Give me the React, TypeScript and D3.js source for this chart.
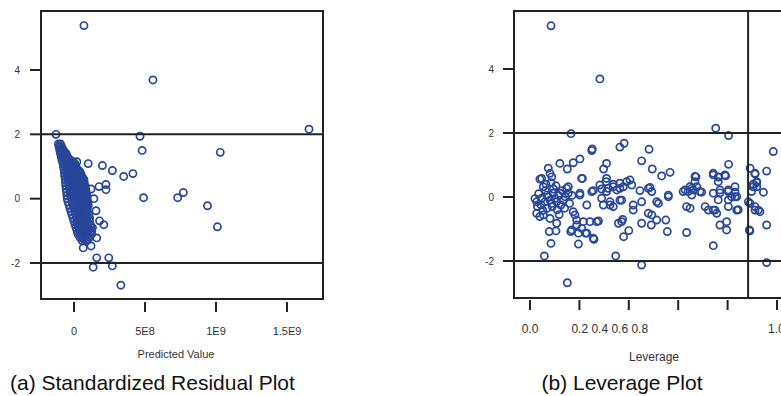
import * as d3 from "d3";

const FONT = "'Liberation Sans', Arial, sans-serif";
const BLUE = "#28469a";
const INK = "#222";

// (a) standardized residual vs predicted value; x given in units of 1E8
const residualPoints: [number, number][] = [
  // outlying cases
  [0.7, 5.38], [5.56, 3.69], [16.55, 2.16], [-1.27, 2.0], [4.65, 1.94], [4.8, 1.5],
  [10.3, 1.44], [0.2, 1.15], [1.0, 1.09], [2.0, 1.03], [2.7, 0.875], [3.5, 0.69],
  [4.15, 0.78], [4.9, 0.03], [7.3, 0.03], [7.7, 0.19], [9.4, -0.22], [10.1, -0.875],
  [0.65, -1.53], [1.2, -1.47], [1.6, -1.84], [1.35, -2.13], [2.45, -1.84], [2.7, -2.09],
  [3.3, -2.69], [0.9, -1.31], [1.6, -1.22], [1.8, -0.69], [2.1, -0.81], [1.55, -0.375],
  [1.4, 0.0], [1.2, 0.3], [1.76, 0.375], [2.25, 0.44], [2.25, 0.28], [1.3, -0.9],
  // dense band near zero
  [-1.1, 1.7], [-0.95, 1.7], [-1.05, 1.6], [-0.85, 1.6], [-1.0, 1.5], [-0.75, 1.5],
  [-0.95, 1.4], [-0.7, 1.4], [-0.55, 1.4], [-0.9, 1.3], [-0.65, 1.3], [-0.45, 1.3],
  [-0.85, 1.2], [-0.55, 1.2], [-0.25, 1.2], [-0.78, 1.1], [-0.5, 1.1], [-0.15, 1.1], [0.05, 1.1],
  [-0.75, 1.0], [-0.45, 1.0], [-0.1, 1.0], [0.15, 1.0], [-0.7, 0.9], [-0.4, 0.9], [-0.05, 0.9], [0.25, 0.9],
  [-0.68, 0.8], [-0.35, 0.8], [0.0, 0.8], [0.35, 0.8], [0.45, 0.8],
  [-0.65, 0.7], [-0.3, 0.7], [0.05, 0.7], [0.4, 0.7], [0.55, 0.7],
  [-0.62, 0.6], [-0.25, 0.6], [0.1, 0.6], [0.45, 0.6], [0.7, 0.6],
  [-0.6, 0.5], [-0.2, 0.5], [0.15, 0.5], [0.5, 0.5], [0.72, 0.5],
  [-0.58, 0.4], [-0.15, 0.4], [0.2, 0.4], [0.55, 0.4], [0.78, 0.4],
  [-0.55, 0.3], [-0.1, 0.3], [0.25, 0.3], [0.6, 0.3], [0.82, 0.3],
  [-0.52, 0.2], [-0.05, 0.2], [0.3, 0.2], [0.65, 0.2], [0.85, 0.2],
  [-0.5, 0.1], [0.0, 0.1], [0.35, 0.1], [0.7, 0.1], [0.9, 0.1],
  [-0.48, 0.0], [0.05, 0.0], [0.4, 0.0], [0.75, 0.0], [0.92, 0.0],
  [-0.42, -0.1], [0.1, -0.1], [0.45, -0.1], [0.8, -0.1], [0.98, -0.1],
  [-0.35, -0.2], [0.15, -0.2], [0.5, -0.2], [0.85, -0.2], [1.0, -0.2],
  [-0.28, -0.3], [0.2, -0.3], [0.55, -0.3], [0.9, -0.3],
  [-0.21, -0.4], [0.25, -0.4], [0.6, -0.4], [0.95, -0.4],
  [-0.14, -0.5], [0.3, -0.5], [0.65, -0.5], [1.05, -0.5],
  [-0.07, -0.6], [0.35, -0.6], [0.7, -0.6], [1.1, -0.6],
  [0.0, -0.7], [0.4, -0.7], [0.75, -0.7], [1.1, -0.7],
  [0.07, -0.8], [0.45, -0.8], [0.8, -0.8], [1.15, -0.8],
  [0.14, -0.9], [0.5, -0.9], [0.85, -0.9], [1.2, -0.9],
  [0.21, -1.0], [0.55, -1.0], [0.9, -1.0], [1.25, -1.0],
  [0.28, -1.1], [0.65, -1.1], [1.0, -1.1], [1.25, -1.1],
  [0.42, -1.2], [0.75, -1.2], [1.1, -1.2], [0.56, -1.3], [0.85, -1.3],
  [-1.02, 1.65], [-0.95, 1.55], [-0.82, 1.55], [-0.88, 1.45], [-0.65, 1.45],
  [-0.8, 1.35], [-0.55, 1.35], [-0.72, 1.25], [-0.4, 1.25],
  [-0.65, 1.15], [-0.32, 1.15], [-0.05, 1.15], [-0.6, 1.05], [-0.28, 1.05], [0.0, 1.05],
  [-0.55, 0.95], [-0.22, 0.95], [0.1, 0.95], [-0.52, 0.85], [-0.18, 0.85], [0.18, 0.85], [0.4, 0.85],
  [-0.48, 0.75], [-0.12, 0.75], [0.22, 0.75], [0.48, 0.75], [-0.45, 0.65], [-0.08, 0.65], [0.28, 0.65], [0.6, 0.65],
  [-0.42, 0.55], [-0.02, 0.55], [0.32, 0.55], [0.62, 0.55], [-0.38, 0.45], [0.02, 0.45], [0.38, 0.45], [0.68, 0.45],
  [-0.32, 0.35], [0.08, 0.35], [0.42, 0.35], [0.72, 0.35], [-0.28, 0.25], [0.12, 0.25], [0.48, 0.25], [0.75, 0.25],
  [-0.25, 0.15], [0.18, 0.15], [0.52, 0.15], [0.8, 0.15], [-0.22, 0.05], [0.22, 0.05], [0.58, 0.05], [0.85, 0.05],
  [-0.15, -0.05], [0.28, -0.05], [0.62, -0.05], [0.9, -0.05], [-0.1, -0.15], [0.32, -0.15], [0.68, -0.15], [0.92, -0.15],
  [-0.05, -0.25], [0.38, -0.25], [0.72, -0.25], [0.98, -0.25], [0.02, -0.35], [0.42, -0.35], [0.78, -0.35],
  [0.08, -0.45], [0.48, -0.45], [0.82, -0.45], [0.15, -0.55], [0.52, -0.55], [0.88, -0.55],
  [0.2, -0.65], [0.58, -0.65], [0.92, -0.65], [0.22, -0.75], [0.6, -0.75], [0.95, -0.75],
  [0.3, -0.85], [0.68, -0.85], [1.0, -0.85], [0.38, -0.95], [0.72, -0.95], [1.08, -0.95],
  [0.42, -1.05], [0.8, -1.05], [1.12, -1.05], [0.52, -1.15], [0.9, -1.15], [0.65, -1.25], [0.98, -1.25],
];

const predictedTicks = [0, 5e8, 1e9, 1.5e9];
const predictedTickLabels = ["0", "5E8", "1E9", "1.5E9"];
const residualTicks = [-2, 0, 2, 4];
const residualLimits = [-2, 2];

// (b) standardized residual vs leverage
const leveragePoints: [number, number][] = [
  [0.085, 5.35], [0.283, 3.69], [0.166, 1.98], [0.752, 2.15], [0.804, 1.92], [0.985, 1.42],
  [0.25, 1.45], [0.252, 1.5], [0.364, 1.56], [0.381, 1.68], [0.482, 1.49],
  [0.121, 1.05], [0.151, 0.875], [0.175, 1.07], [0.202, 1.19], [0.074, 0.9], [0.081, 0.74],
  [0.088, 0.63], [0.04, 0.56], [0.054, 0.32], [0.212, 0.58], [0.298, 0.875], [0.31, 1.05],
  [0.452, 1.13], [0.495, 0.875], [0.533, 0.66], [0.567, 0.77], [0.672, 0.63], [0.742, 0.69],
  [0.764, 0.62], [0.792, 0.66], [0.804, 1.02], [0.891, 0.9], [0.911, 0.72], [0.958, 0.81],
  [0.308, 0.48], [0.391, 0.48], [0.364, 0.43], [0.337, 0.4], [0.337, 0.32], [0.405, 0.53],
  [0.364, 0.27], [0.283, 0.375], [0.31, 0.58], [0.256, 0.2], [0.29, 0.25], [0.317, 0.27],
  [0.445, 0.2], [0.486, 0.3], [0.493, 0.17], [0.56, 0.06], [0.628, 0.22], [0.661, 0.22],
  [0.695, 0.15], [0.742, 0.12], [0.769, 0.13], [0.803, 0.17], [0.83, 0.32], [0.83, 0.15],
  [0.904, 0.4], [0.918, 0.45], [0.945, 0.15], [0.148, 0.27], [0.202, 0.12], [0.155, 0.12],
  [0.155, 0.32], [0.25, 0.17], [0.209, 0.58], [0.047, 0.58], [0.62, 0.17], [0.655, 0.06],
  [0.675, 0.32], [0.648, 0.32], [0.918, 0.32], [0.202, 0.06],
  [0.027, -0.15], [0.047, -0.04], [0.068, 0.06], [0.094, 0.12], [0.121, 0.12], [0.142, 0.01],
  [0.081, -0.1], [0.108, -0.15], [0.29, -0.04], [0.31, 0.17], [0.351, 0.22], [0.378, 0.32],
  [0.412, 0.375], [0.479, 0.27], [0.452, -0.15], [0.513, -0.15], [0.634, -0.3], [0.418, -0.25],
  [0.324, -0.25], [0.364, -0.1], [0.418, -0.41], [0.479, -0.51], [0.297, -0.25], [0.337, -0.3],
  [0.324, -0.15], [0.371, -0.1], [0.493, -0.56], [0.52, -0.2], [0.56, 0.01], [0.648, -0.35],
  [0.709, -0.3], [0.722, -0.41], [0.742, -0.41], [0.756, -0.51], [0.803, -0.3], [0.837, -0.41],
  [0.83, 0.01], [0.891, -0.2], [0.911, -0.41], [0.931, -0.46], [0.23, -0.25],
  [0.027, -0.51], [0.04, -0.61], [0.054, -0.56], [0.081, -0.67], [0.108, -0.82], [0.175, -0.46],
  [0.182, -0.56], [0.189, -0.72], [0.216, -0.77], [0.243, -0.77], [0.27, -0.77], [0.358, -0.82],
  [0.371, -0.77], [0.375, -0.7], [0.452, -0.82], [0.491, -0.875], [0.513, -0.72], [0.55, -0.72],
  [0.556, -1.08], [0.634, -1.11], [0.769, -0.875], [0.796, -0.77], [0.796, -1.03], [0.888, -1.03],
  [0.89, -1.06], [0.958, -0.875], [0.078, -1.08], [0.105, -1.06], [0.165, -1.08], [0.196, -1.13],
  [0.225, -1.13], [0.259, -1.32], [0.379, -1.24], [0.4, -1.05], [0.169, -1.03], [0.189, -0.875],
  [0.209, -0.98], [0.23, -1.13], [0.256, -1.29], [0.277, -0.75], [0.085, -1.45], [0.196, -1.47],
  [0.058, -1.84], [0.151, -2.68], [0.347, -1.84], [0.452, -2.125], [0.742, -1.52], [0.958, -2.05],
  [0.668, 0.64], [0.668, 0.48], [0.655, 0.27], [0.688, 0.17], [0.64, 0.17], [0.742, 0.74],
  [0.762, 0.63], [0.789, 0.69], [0.762, 0.48], [0.769, 0.22], [0.803, 0.22], [0.816, 0.01],
  [0.837, 0.01], [0.762, -0.09], [0.803, -0.09], [0.843, -0.4], [0.749, -0.41], [0.911, 0.74],
  [0.918, 0.48], [0.904, 0.32], [0.897, 0.17], [0.884, -0.15], [0.911, -0.3], [0.925, -0.41],
  [0.02, -0.05], [0.035, 0.1], [0.045, -0.25], [0.06, -0.15], [0.062, 0.2], [0.07, -0.35],
  [0.075, 0.0], [0.09, -0.3], [0.095, 0.25], [0.1, -0.05], [0.11, -0.4], [0.115, 0.05],
  [0.125, -0.25], [0.13, 0.2], [0.135, -0.1], [0.052, -0.42], [0.03, -0.3], [0.065, 0.4],
  [0.085, 0.45], [0.105, 0.35], [0.14, -0.35], [0.16, -0.2], [0.17, 0.05], [0.118, -0.55],
  [0.088, -0.2],
];

const leverageTicks = [0, 0.2, 0.4, 0.6, 0.8, 1.0];
const leverageCutoff = 0.883;

function Dots({ points, x, y, scaleX = 1 }: any) {
  return (
    <g fill="none" stroke={BLUE} strokeWidth={1.7}>
      {points.map(([a, b]: [number, number], i: number) => (
        <circle key={i} cx={x(a * scaleX)} cy={y(b)} r={3.6} />
      ))}
    </g>
  );
}

function YAxis({ y, left, labelX }: any) {
  return (
    <g>
      {residualTicks.map((t) => (
        <g key={t}>
          <line x1={left - 11} x2={left} y1={y(t)} y2={y(t)} stroke={INK} strokeWidth={2} />
          <text x={labelX} y={y(t)} dy="0.35em" textAnchor="end" fontSize={10} fill="#333">
            {t}
          </text>
        </g>
      ))}
    </g>
  );
}

export default function App() {
  // (a) layout
  const a = { left: 41, right: 323, top: 11, bottom: 299 };
  const xa = d3.scaleLinear().domain([0, 1.5e9]).range([74, 287]);
  const ya = d3.scaleLinear().domain([-2, 4]).range([263, 70]);

  // (b) layout
  const b = { left: 514, right: 800, top: 11, bottom: 298 };
  const xb = d3.scaleLinear().domain([0, 1]).range([530, 777]);
  const yb = d3.scaleLinear().domain([-2, 4]).range([261, 69]);

  return (
    <svg
      width={781}
      height={396}
      style={{ position: "absolute", left: 0, top: 0, background: "#fff" }}
      fontFamily={FONT}
    >
      <rect width={781} height={396} fill="#fff" />

      {/* (a) Standardized Residual Plot */}
      <Dots points={residualPoints} x={xa} y={ya} scaleX={1e8} />
      {residualLimits.map((v) => (
        <line key={v} x1={a.left} x2={a.right} y1={ya(v)} y2={ya(v)} stroke={INK} strokeWidth={2} />
      ))}
      <rect x={a.left} y={a.top} width={a.right - a.left} height={a.bottom - a.top}
        fill="none" stroke={INK} strokeWidth={2} />
      <YAxis y={ya} left={a.left} labelX={20} />
      {predictedTicks.map((t, i) => (
        <g key={t}>
          <line x1={xa(t)} x2={xa(t)} y1={a.bottom + 3} y2={a.bottom + 13} stroke={INK} strokeWidth={2} />
          <text x={xa(t)} y={335} textAnchor="middle" fontSize={11} fill="#333">
            {predictedTickLabels[i]}
          </text>
        </g>
      ))}
      <text x={176} y={358} textAnchor="middle" fontSize={11} fill="#333">Predicted Value</text>
      <text x={10} y={390} fontSize={21} fill="#111">(a) Standardized Residual Plot</text>

      {/* (b) Leverage Plot */}
      <Dots points={leveragePoints} x={xb} y={yb} />
      {residualLimits.map((v) => (
        <line key={v} x1={b.left} x2={b.right} y1={yb(v)} y2={yb(v)} stroke={INK} strokeWidth={2} />
      ))}
      <line x1={xb(leverageCutoff)} x2={xb(leverageCutoff)} y1={b.top} y2={b.bottom} stroke={INK} strokeWidth={2} />
      <rect x={b.left} y={b.top} width={b.right - b.left} height={b.bottom - b.top}
        fill="none" stroke={INK} strokeWidth={2} />
      <YAxis y={yb} left={b.left} labelX={494} />
      {leverageTicks.map((t) => (
        <line key={t} x1={xb(t)} x2={xb(t)} y1={b.bottom + 2} y2={b.bottom + 12} stroke={INK} strokeWidth={2} />
      ))}
      <g fontSize={12} fill="#333">
        <text x={xb(0)} y={333} textAnchor="middle">0.0</text>
        <text x={xb(0.2) - 8} y={333}>0.2 0.4 0.6 0.8</text>
        <text x={xb(1.0) - 9} y={333}>1.0</text>
      </g>
      <text x={654} y={361} textAnchor="middle" fontSize={12} fill="#333">Leverage</text>
      <text x={622} y={390} textAnchor="middle" fontSize={21} fill="#111">(b) Leverage Plot</text>
    </svg>
  );
}
